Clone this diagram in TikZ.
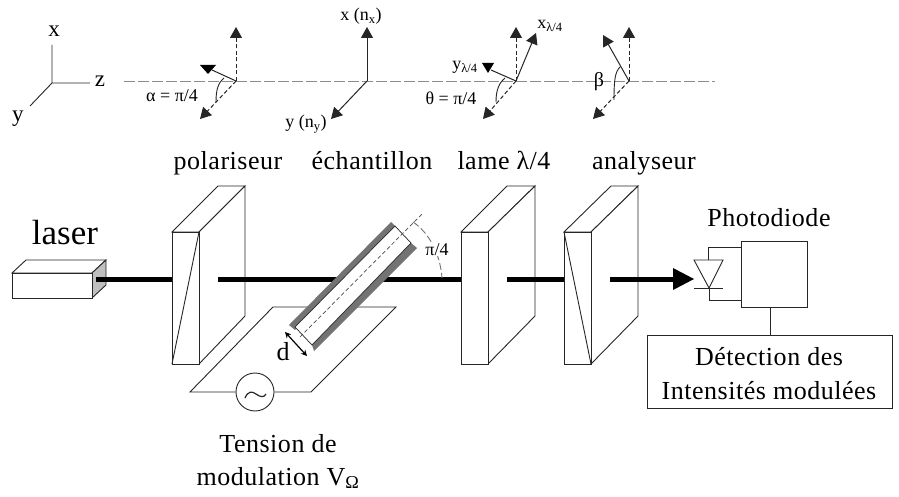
\documentclass[tikz,border=0pt]{standalone}
\usepackage{fontspec}
\setmainfont{Liberation Serif}
\usetikzlibrary{arrows.meta}
\newcommand{\fsz}[1]{\fontsize{#1}{#1}\selectfont}
\tikzset{
 ln/.style={draw=black!85,line width=0.9pt},
 optic/.style={draw=black!85,line width=0.9pt,fill=white,line join=miter},
 beam/.style={draw=black,line width=5pt},
 guide/.style={draw=black!45,line width=0.9pt,dash pattern=on 11pt off 3pt},
 vec/.style={draw=black!85,line width=1pt,-{Triangle[length=11pt,width=12pt]}},
 vecd/.style={vec,dash pattern=on 4pt off 2.5pt},
 vecs/.style={draw=black!85,line width=1pt},
 tip/.style={fill=black,draw=none},
 lab/.style={inner sep=0pt,anchor=base,font=\fsz{26}},
 sm/.style={inner sep=0pt,anchor=base,font=\fsz{18}},
 ax/.style={inner sep=0pt,anchor=base,font=\fsz{23}},
 bx/.style={draw=black!85,line width=0.9pt,fill=white,inner sep=0pt},
}
\begin{document}
\begin{tikzpicture}[x=1pt,y=-1pt]
\useasboundingbox (0,0) rectangle (899,497);
\fill[white] (0,0) rectangle (899,497);
% axes
\coordinate (o) at (52,83);
\coordinate (ox) at (52,45);
\coordinate (oz) at (90,83);
\coordinate (oy) at (30,106);
\draw[ln] (ox)--(o)--(oz) (o)--(oy);
\node[ax] (lx) at (54,37) {x};
\node[ax] (lz) at (100,87) {z};
\node[ax] (ly) at (18,122) {y};
% guide
\coordinate (g1) at (124,81);
\coordinate (g2) at (715,81);
\draw[guide] (g1)--(g2);
% polariser vectors
\coordinate (pO) at (236,81);
\coordinate (pU) at (236,27);
\coordinate (pD) at (200,119);
\coordinate (pS) at (212,70);
\draw[vecd] (pO)--(pU);
\draw[vecd] (pO)--(pD);
\draw[vecs] (pO)--(pS);
\fill[tip] (200,65)--(216,65)--(208,74)--cycle;
\draw[ln] (224,78) .. controls (218,83) and (216,90) .. (216,102);
\node[sm] (la) at (172,102) {α = π/4};
% sample vectors
\coordinate (sO) at (367,81);
\coordinate (sU) at (367,27);
\coordinate (sD) at (331,119);
\draw[vec] (sO)--(sU);
\draw[vec] (sO)--(sD);
\node[sm] (lnx) at (361,21) {x (n\textsubscript{x})};
\node[sm] (lny) at (306,128) {y (n\textsubscript{y})};
% lame vectors
\coordinate (lO) at (516,81);
\coordinate (lU) at (516,27);
\coordinate (lX) at (536,33);
\coordinate (lD) at (483,119);
\coordinate (lS) at (491,70);
\draw[vecd] (lO)--(lU);
\draw[vec] (lO)--(lX);
\draw[vecd] (lO)--(lD);
\draw[vecs] (lO)--(lS);
\fill[tip] (482,63)--(494,63)--(488,73)--cycle;
\draw[ln] (505,78) .. controls (499,83) and (496,90) .. (496,102);
\node[sm] (lxl) at (550,29) {x\textsubscript{λ/4}};
\node[sm] (lyl) at (465,70) {y\textsubscript{λ/4}};
\node[sm] (lth) at (451,105) {θ = π/4};
% analyser vectors
\coordinate (aO) at (629,81);
\coordinate (aU) at (629,27);
\coordinate (aS) at (603,35);
\coordinate (aD) at (593,119);
\draw[vecd] (aO)--(aU);
\draw[vec] (aO)--(aS);
\draw[vecd] (aO)--(aD);
\draw[ln] (620,67) .. controls (615,72) and (614,80) .. (614,100);
\node[sm,font=\fsz{20}] (lb) at (599,87) {β};
% titles
\node[lab] (t1) at (228,170) {\addfontfeature{LetterSpace=2}polariseur};
\node[lab] (t2) at (372,170) {\addfontfeature{LetterSpace=2}échantillon};
\node[lab] (t3) at (504,170) {\addfontfeature{LetterSpace=2}lame λ/4};
\node[lab] (t4) at (644,170) {\addfontfeature{LetterSpace=2}analyseur};
\node[inner sep=0pt,anchor=base,font=\fsz{35}] (tl) at (65,244) {laser};
% platform + source
\coordinate (m1) at (273,307);
\coordinate (m2) at (396,307);
\coordinate (m3) at (311,392);
\coordinate (m4) at (190,392);
\node[circle,draw=black!85,line width=0.9pt,fill=white,minimum size=38pt,inner sep=0pt] (src) at (255,392) {};
\draw[ln] (src.west)--(m4)--(m1)--(m2)--(m3)--(src.east);
\draw[line width=1.2pt,black!85] (245,398) .. controls (248,391) and (252,391) .. (256,394) .. controls (260,397) and (264,398) .. (266,394);
% beam coordinates
\coordinate (b1) at (96,279);
\coordinate (b2) at (172,279);
\coordinate (b3) at (218,279);
\coordinate (b4) at (461,279);
\coordinate (b5) at (507,279);
\coordinate (b6) at (564,279);
\coordinate (b7) at (610,279);
\coordinate (b8) at (694,279);
% optics
\draw[optic] (172,232)--(218,186)--(245,186)--(199,232)--cycle;
\draw[optic] (199,232)--(245,186)--(245,316)--(199,364)--cycle;
\draw[optic] (172,232) rectangle (199,364);
\draw[ln] (199,232)--(172,364);
\draw[optic] (461,232)--(507,186)--(535,186)--(488,232)--cycle;
\draw[optic] (488,232)--(535,186)--(535,316)--(488,364)--cycle;
\draw[optic] (461,232) rectangle (488,364);
\draw[optic] (564,232)--(611,186)--(638,186)--(591,232)--cycle;
\draw[optic] (591,232)--(638,186)--(638,316)--(591,364)--cycle;
\draw[optic] (564,232) rectangle (591,364);
\draw[ln] (564,232)--(591,364);
% beams
\draw[beam] (b1)--(b2);
\draw[beam] (b3)--(b4);
\draw[beam] (b5)--(b6);
\draw[beam] (b7)--(676,279);
\fill[tip] (b8)--(673,268)--(673,290)--cycle;
% laser body
\draw[optic] (12,273)--(26,260)--(106,260)--(92,273)--cycle;
\draw[optic,fill=black!25] (92,273)--(106,260)--(106,285)--(92,298)--cycle;
\draw[optic] (12,273) rectangle (92,298);
\draw[beam] (96,279)--(120,279);
% sample
\fill[black!55] (289,325)--(391,222)--(396,227)--(295,330)--cycle;
\fill[black!55] (312,345)--(411,243)--(417,248)--(314,351)--cycle;
\fill[white] (295,327)--(395,226)--(411,243)--(312,345)--cycle;
\draw[ln,line width=0.7pt] (295,327)--(395,226)--(411,243)--(312,345)--cycle;
\coordinate (d1) at (300,337);
\coordinate (d2) at (423,213);
\draw[line width=0.7pt,black!70,dash pattern=on 4pt off 2.5pt] (d1)--(d2);
\draw[draw=black!55,line width=0.9pt,dash pattern=on 7pt off 3pt] (413,222) .. controls (428,232) and (440,252) .. (442,278);
\node[inner sep=1pt,anchor=base,fill=white,font=\fsz{18}] (lp) at (437,255) {π/4};
\coordinate (e1) at (285,332);
\coordinate (e2) at (307,356);
\draw[line width=1.2pt,black,{Stealth[length=6pt,width=6pt]}-{Stealth[length=6pt,width=6pt]}] (e1)--(e2);
\node[inner sep=0pt,anchor=base,font=\fsz{26}] (ld) at (283,360) {d};
\node[lab] (t5) at (278,452) {\addfontfeature{LetterSpace=2}Tension de};
\node[lab] (t6) at (278,485) {\addfontfeature{LetterSpace=2}modulation V\textsubscript{Ω}};
% photodiode
\node[bx,minimum width=66pt,minimum height=66pt] (pd) at (774,274) {};
\node[bx,minimum width=245pt,minimum height=73pt] (det) at (769.5,371.5) {};
\node[lab] (t7) at (769,226) {\addfontfeature{LetterSpace=2}Photodiode};
\node[lab] (t8) at (769,365) {\addfontfeature{LetterSpace=2}Détection des};
\node[lab] (t9) at (769,399) {\addfontfeature{LetterSpace=2}Intensités modulées};
\coordinate (pb) at (770,307);
\coordinate (dt) at (770,335);
\draw[ln] (pb)--(dt);
\coordinate (w1) at (741,247);
\coordinate (w2) at (708,247);
\coordinate (w3) at (708,260);
\coordinate (w4) at (709,288);
\coordinate (w5) at (709,300);
\coordinate (w6) at (741,300);
\draw[ln] (w1)--(w2)--(w3);
\draw[ln] (w4)--(w5)--(w6);
\draw[ln] (694,260)--(723,260)--(709,288)--cycle;
\draw[ln] (694,288)--(723,288);
\end{tikzpicture}
\end{document}
